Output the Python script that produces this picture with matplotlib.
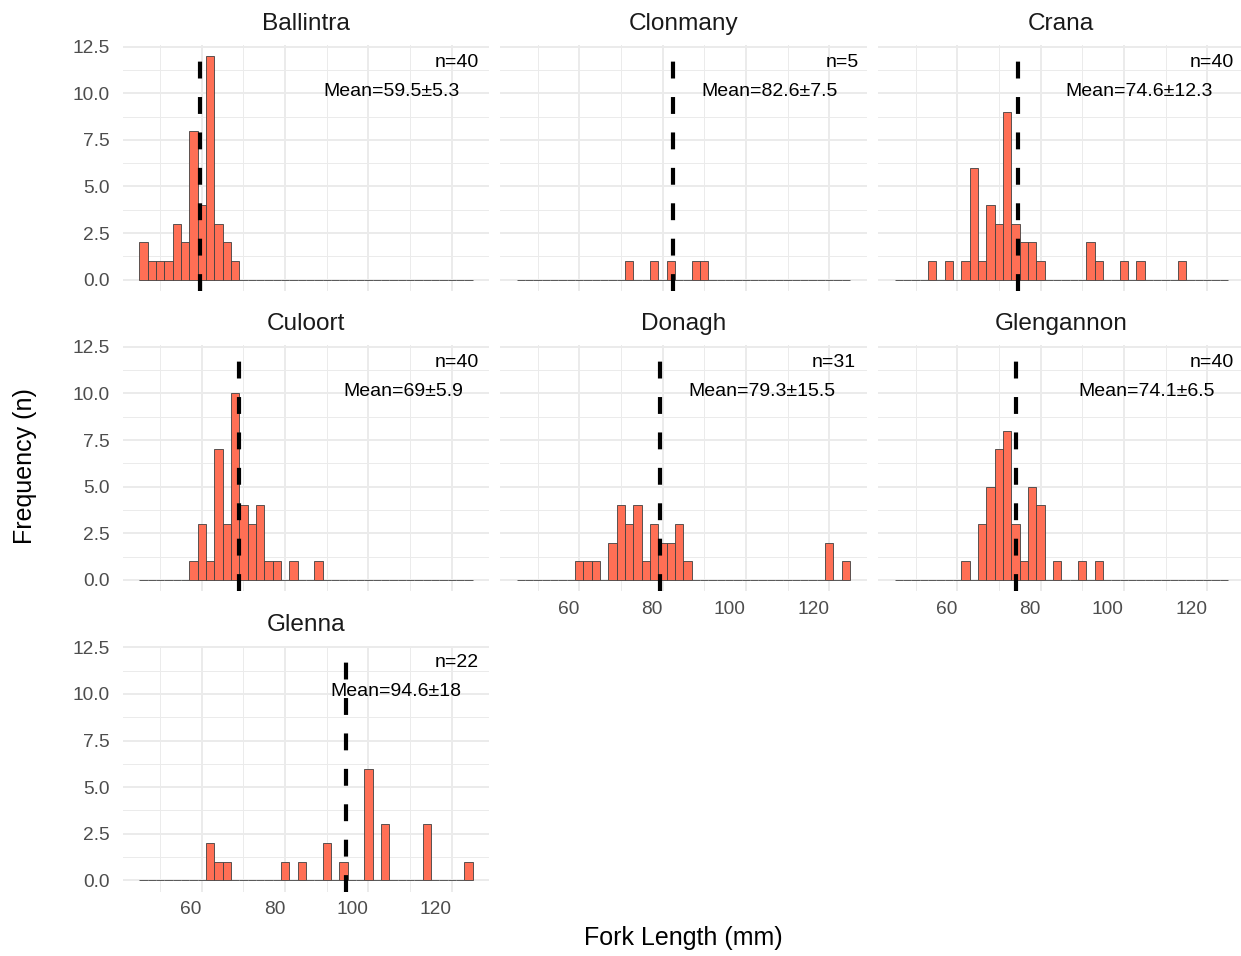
import numpy as np
import matplotlib
matplotlib.use("Agg")
import matplotlib.pyplot as plt
from matplotlib.ticker import FixedLocator

plt.rcParams['font.family'] = ['Liberation Sans', 'DejaVu Sans']

# ---- data ----
sites = ["Ballintra", "Clonmany", "Crana", "Culoort", "Donagh", "Glengannon", "Glenna"]
bin_width = 2
bin_left = np.arange(45, 125, bin_width)  # 40 bins from 45 to 125

# counts per bin (bin left edges 45, 47, ..., 123)
ballintra  = [2,1,1,1,3,2,8,4,12,3,2,1,0,0,0,0,0,0,0,0, 0,0,0,0,0,0,0,0,0,0,0,0,0,0,0,0,0,0,0,0]
clonmany   = [0,0,0,0,0,0,0,0,0,0,0,0,0,1,0,0,1,0,1,0, 0,1,1,0,0,0,0,0,0,0,0,0,0,0,0,0,0,0,0,0]
crana      = [0,0,0,0,1,0,1,0,1,6,1,4,3,9,3,2,2,1,0,0, 0,0,0,2,1,0,0,1,0,1,0,0,0,0,1,0,0,0,0,0]
culoort    = [0,0,0,0,0,0,1,3,1,7,3,10,4,3,4,1,1,0,1,0, 0,1,0,0,0,0,0,0,0,0,0,0,0,0,0,0,0,0,0,0]
donagh     = [0,0,0,0,0,0,0,1,1,1,0,2,4,3,4,1,3,2,2,3, 1,0,0,0,0,0,0,0,0,0,0,0,0,0,0,0,0,2,0,1]
glengannon = [0,0,0,0,0,0,0,0,1,0,3,5,7,8,3,1,5,4,0,1, 0,0,1,0,1,0,0,0,0,0,0,0,0,0,0,0,0,0,0,0]
glenna     = [0,0,0,0,0,0,0,0,2,1,1,0,0,0,0,0,0,1,0,1, 0,0,2,0,1,0,0,6,0,3,0,0,0,0,3,0,0,0,0,1]

counts = [ballintra, clonmany, crana, culoort, donagh, glengannon, glenna]
n_labels = ["n=40", "n=5", "n=40", "n=40", "n=31", "n=40", "n=22"]
means = [59.5, 82.6, 74.6, 69.0, 79.3, 74.1, 94.6]
mean_labels = ["Mean=59.5\u00b15.3", "Mean=82.6\u00b17.5", "Mean=74.6\u00b112.3",
               "Mean=69\u00b15.9", "Mean=79.3\u00b115.5", "Mean=74.1\u00b16.5",
               "Mean=94.6\u00b118"]

x_ticks = [60, 80, 100, 120]
y_ticks = [0.0, 2.5, 5.0, 7.5, 10.0, 12.5]

# ---- layout ----
W, H = 1241, 956
fig = plt.figure(figsize=(W / 100, H / 100), dpi=100)
fig.patch.set_facecolor("white")

col_left = [122.5, 500.0, 878.0]
row_top = [44.8, 345.0, 645.5]
pw, ph = 366.7, 246.0

fill = "#FF6F55"
edge = "#404040"
grid_c = "#EBEBEB"

axes = []
for i, site in enumerate(sites):
    r, c = divmod(i, 3)
    left = col_left[c] / W
    bottom = 1 - (row_top[r] + ph) / H
    ax = fig.add_axes([left, bottom, pw / W, ph / H])
    axes.append(ax)
    ax.set_xlim(41, 129)
    ax.set_ylim(-0.6, 12.6)
    ax.set_facecolor("white")
    for s in ax.spines.values():
        s.set_visible(False)

    ax.xaxis.set_major_locator(FixedLocator(x_ticks))
    ax.xaxis.set_minor_locator(FixedLocator([50, 70, 90, 110]))
    ax.yaxis.set_major_locator(FixedLocator(y_ticks))
    ax.yaxis.set_minor_locator(FixedLocator([1.25, 3.75, 6.25, 8.75, 11.25]))
    ax.grid(True, which="major", color=grid_c, lw=1.4, zorder=0)
    ax.grid(True, which="minor", color=grid_c, lw=0.7, zorder=0)
    ax.set_axisbelow(True)
    ax.tick_params(which="both", length=0)
    ax.tick_params(axis="x", pad=7, labelsize=13.8, labelcolor="#4D4D4D")
    ax.tick_params(axis="y", pad=9, labelsize=13.8, labelcolor="#4D4D4D")
    ax.set_yticklabels([f"{v:.1f}" for v in y_ticks])
    ax.set_xticklabels([str(v) for v in x_ticks])
    if c != 0:
        ax.tick_params(axis="y", labelleft=False)
    if site not in ("Donagh", "Glengannon", "Glenna"):
        ax.tick_params(axis="x", labelbottom=False)
    for lab in ax.get_xticklabels():
        lab.set_ha("right")

    ax.bar(bin_left, counts[i], width=bin_width, align="edge",
           color=fill, edgecolor=edge, linewidth=0.6, zorder=2)
    ax.axvline(means[i], color="black", lw=3, linestyle=(0, (4.05, 4.45)), zorder=3)

    ax.text(0.5, 1 + 14.5 / ph, site, transform=ax.transAxes, ha="center",
            va="baseline", fontsize=17.6, color="#1A1A1A")

    ax._n_text = ax.text(1.0, 0.930, n_labels[i], transform=ax.transAxes,
                         ha="right", va="center", fontsize=14, color="black", zorder=4)
    ax._m_text = ax.text(1.0, 0.812, mean_labels[i], transform=ax.transAxes,
                         ha="right", va="center", fontsize=14, color="black", zorder=4)

# emulate hjust > 1 (text pushed left of the panel edge by a fraction of its width)
fig.canvas.draw()
for ax in axes:
    for t, h in ((ax._n_text, 0.24), (ax._m_text, 0.215)):
        wpx = t.get_window_extent().width
        t.set_x(1.0 - h * wpx / pw)

fig.text(683 / W, 1 - 938 / H, "Fork Length (mm)", ha="center", va="center",
         fontsize=18, color="black")
fig.text(25 / W, 1 - 466 / H, "Frequency (n)", ha="center", va="center",
         rotation=90, fontsize=18, color="black")

fig.savefig("out.png", dpi=100, facecolor="white")
